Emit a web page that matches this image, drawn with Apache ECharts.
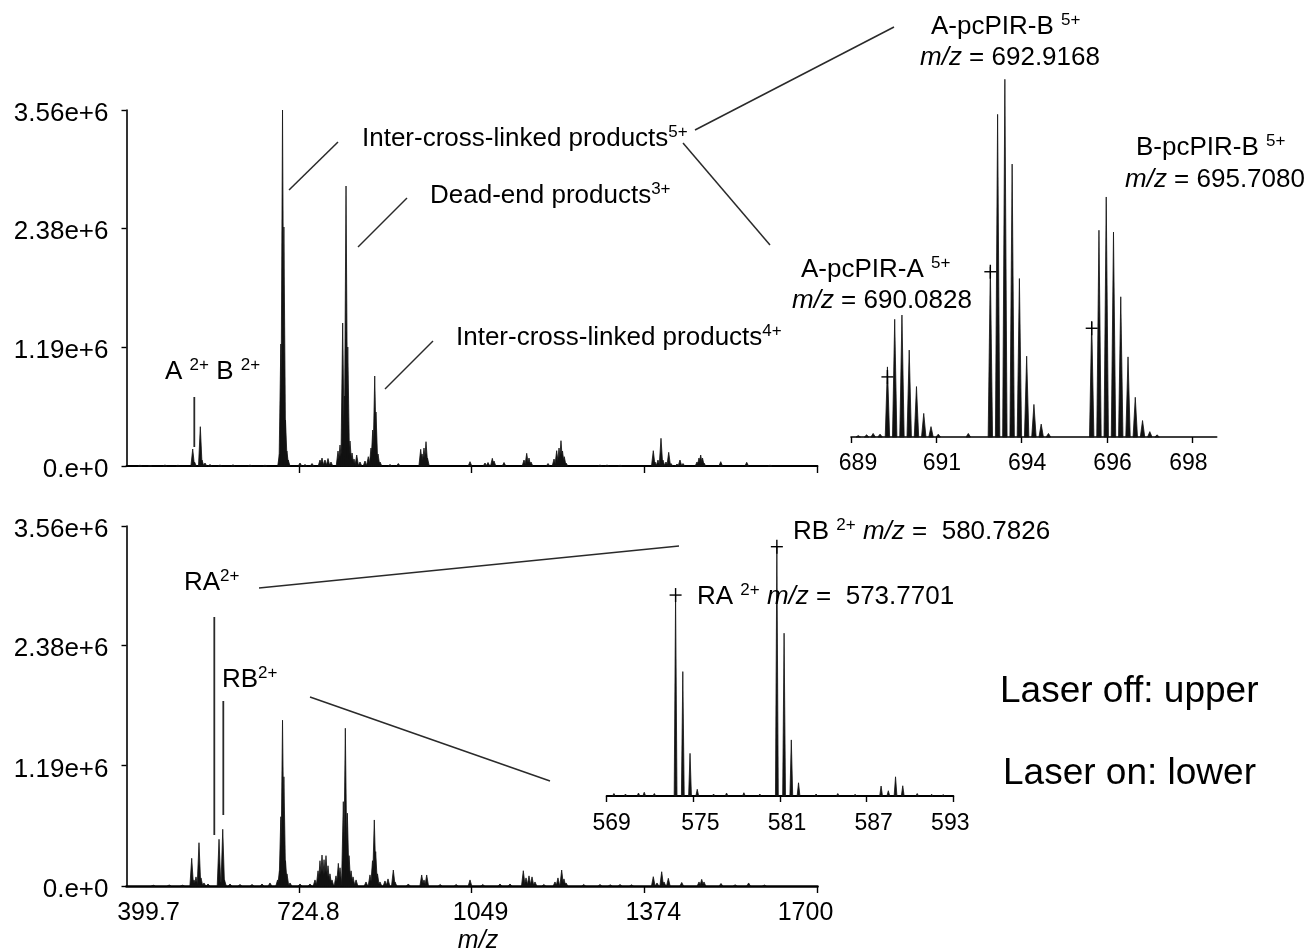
<!DOCTYPE html>
<html><head><meta charset="utf-8">
<script src="https://cdn.jsdelivr.net/npm/echarts@6/dist/echarts.min.js"></script>
<style>html,body{margin:0;padding:0;background:#fff}#c{width:1308px;height:952px}</style>
</head><body><div id="c"></div>
<script>
const FONT = "'Liberation Sans', Arial, Helvetica, sans-serif";

// ---- main spectra: [m/z, intensity]
const upperPeaks = [[425.1,8e3],[443.9,6e3],[472.1,10e3],[496.6,8e3],[524.3,170e3],[527.7,40e3],[538.6,393e3],[541.8,60e3],[547.4,30e3],[556.8,15e3],[575.6,10e3],[600.1,12e3],[632.1,10e3],[660.3,8e3],
[687.6,120e3],[690.1,1.22e6],[693.3,3.56e6],[695.9,2.39e6],[698.9,0.46e6],[701.5,150e3],[704.0,60e3],[726.2,30e3],[735.6,15e3],[748.8,25e3],
[763.8,60e3],[767.6,80e3],[773.2,60e3],[778.9,75e3],[784.5,40e3],[797.7,150e3],[801.5,210e3],[806.5,1.43e6],[809.9,0.7e6],[812.8,2.80e6],[816.1,1.19e6],[820.3,0.25e6],[824.1,130e3],[827.8,70e3],[832.9,110e3],[839.1,40e3],
[848.5,50e3],[854.7,93e3],[859.8,180e3],[863.0,360e3],[866.8,0.90e6],[869.2,0.54e6],[873.0,0.12e6],[876.8,40e3],[895.6,15e3],[911.2,25e3],
[953.3,167e3],[955.8,120e3],[959.5,180e3],[963.3,243e3],[966.1,80e3],[1046.1,43e3],[1074.3,30e3],[1080.0,35e3],[1088.1,77e3],[1091.3,50e3],[1110.1,35e3],
[1147.7,60e3],[1152.8,127e3],[1157.1,80e3],[1160.9,40e3],[1192.9,25e3],[1204.2,70e3],[1209.2,153e3],[1213.6,180e3],[1217.3,253e3],[1220.2,150e3],[1223.5,93e3],[1226.8,30e3],
[1290.7,10e3],[1303.9,10e3],[1328.4,8e3],[1391.0,153e3],[1394.2,40e3],[1399.8,60e3],[1405.5,277e3],[1409.2,60e3],[1414.9,40e3],[1420.0,137e3],[1424.3,25e3],
[1435.6,20e3],[1441.2,60e3],[1446.9,25e3],[1473.2,40e3],[1477.0,80e3],[1480.2,110e3],[1483.6,80e3],[1486.4,30e3],[1517.9,43e3],[1566.8,37e3],[1610.6,8e3]];

const lowerPeaks = [[450,8e3],[480,10e3],[505,8e3],[522.4,274e3],[526.7,60e3],[530.5,90e3],[536.1,428e3],[539.9,80e3],[545.5,30e3],[553.1,20e3],[573.8,462e3],[576.0,40e3],[580.8,561e3],[584.1,60e3],
[594.5,20e3],[613.3,15e3],[635.9,15e3],[654.7,20e3],[669.7,30e3],[684.0,60e3],[687.6,150e3],[690.1,0.685e6],[693.3,1.64e6],[695.9,1.08e6],[698.9,0.25e6],[701.7,120e3],[707.4,30e3],[726.2,20e3],[745.0,20e3],
[754.4,60e3],[760.1,150e3],[763.8,250e3],[767.6,306e3],[771.4,260e3],[775.1,300e3],[778.9,200e3],[782.6,120e3],[786.4,60e3],[793.9,100e3],[798.3,224e3],[801.5,180e3],[807.7,0.834e6],[811.5,1.56e6],[815.3,0.72e6],[818.5,0.3e6],[822.3,150e3],[826.0,90e3],[831.7,60e3],
[850.4,40e3],[857.9,110e3],[862.6,250e3],[866.0,653e3],[868.6,340e3],[872.0,120e3],[876.7,40e3],[886.1,50e3],[891.8,70e3],[901.8,158e3],[905.0,40e3],[930,20e3],
[955.2,109e3],[959.5,60e3],[964.6,109e3],[990,15e3],[1020,15e3],[1046.1,60e3],[1070,15e3],[1102.5,20e3],[1121.4,20e3],
[1146.4,151e3],[1151.5,80e3],[1157.1,100e3],[1162.8,90e3],[1168.4,40e3],[1185,15e3],[1206.0,40e3],[1211.6,80e3],[1218.6,158e3],[1222.9,70e3],[1226.8,30e3],
[1260,15e3],[1290.7,15e3],[1310,12e3],[1328.4,15e3],[1350,12e3],[1391.0,92e3],[1398.0,30e3],[1406.8,141e3],[1411.2,40e3],[1419.3,76e3],[1444.5,35e3],
[1477.0,40e3],[1482.1,66e3],[1486.4,40e3],[1518.4,25e3],[1545,12e3],[1570.4,30e3],[1600,10e3]];

// ---- insets: [m/z, relative intensity %]
const upperInsetPeaks = [[689.28,0.4],[689.51,0.6],[689.69,1.0],[689.88,0.8],
[690.083,19.6],[690.283,32.9],[690.483,34.1],[690.683,24.3],[690.883,14.1],[691.083,6.6],[691.283,2.9],[691.483,0.8],[692.31,1.0],
[692.917,47.6],[693.117,90.2],[693.317,100],[693.517,76.3],[693.717,44.3],[693.917,22.6],[694.117,9.1],[694.317,3.6],[694.517,1.0],
[695.708,32.2],[695.908,57.8],[696.108,67.1],[696.308,57.3],[696.508,39.2],[696.708,22.4],[696.908,11.1],[697.108,4.6],[697.308,1.5],[697.508,0.6]];
const upperInsetMono = [[690.0828,16.8],[692.9168,46.2],[695.7080,30.4]];

const lowerInsetPeaks = [[569.5,1.0],[570.3,0.8],[571.2,1.2],[571.6,1.5],[572.3,1.0],
[573.770,80.6],[574.270,49.9],[574.770,17.1],[575.270,2.7],[576.4,0.8],[577.3,1.2],[578.5,1.3],[579.6,0.8],
[580.783,100],[581.283,65.3],[581.783,22.5],[582.283,5.3],[583.5,0.8],[585.0,1.0],[586.2,0.7],
[588.0,4.0],[588.5,2.1],[589.0,7.7],[589.5,4.1],[590.5,1.0],[591.5,0.7],[592.3,0.6]];
const lowerInsetMono = [[573.7701,80.6],[580.7826,100]];

// ---- ticks / labels
const mainXTicks = [399.7, 724.8, 1049, 1374, 1700];
const mainXLabels = ['399.7', '724.8', '1049', '1374', '1700'];
const mainYTicks = [0, 1.19e6, 2.38e6, 3.56e6];
const mainYLabels = ['0.e+0', '1.19e+6', '2.38e+6', '3.56e+6'];
const upperInsetTicks = [689.08, 691.43, 693.78, 696.13, 698.48];
const upperInsetLabels = ['689', '691', '694', '696', '698'];
const lowerInsetTicks = [569, 575, 581, 587, 593];
const lowerInsetLabels = ['569', '575', '581', '587', '593'];

function idxOf(arr, v) {
  let best = 0, d = Infinity;
  arr.forEach((a, i) => { const dd = Math.abs(a - v); if (dd < d) { d = dd; best = i; } });
  return best;
}

function peakSeries(xi, peaks, halfW) {
  return {
    type: 'custom', xAxisIndex: xi, yAxisIndex: xi, silent: true, animation: false, clip: false, z: 3,
    data: peaks,
    renderItem: (params, api) => {
      const top = api.coord([api.value(0), api.value(1)]);
      const base = api.coord([api.value(0), 0]);
      return {
        type: 'polygon',
        shape: { points: [[top[0] - halfW, base[1]], [top[0], top[1]], [top[0] + halfW, base[1]]] },
        style: { fill: '#111', stroke: '#111', lineWidth: 0.8 }
      };
    }
  };
}
function crossSeries(xi, marks) {
  return {
    type: 'custom', xAxisIndex: xi, yAxisIndex: xi, silent: true, animation: false, clip: false, z: 4,
    data: marks,
    renderItem: (params, api) => {
      const c = api.coord([api.value(0), api.value(1)]);
      const st = { stroke: '#000', lineWidth: 1.4 };
      return { type: 'group', children: [
        { type: 'line', shape: { x1: c[0] - 6, y1: c[1], x2: c[0] + 6, y2: c[1] }, style: st },
        { type: 'line', shape: { x1: c[0], y1: c[1] - 7, x2: c[0], y2: c[1] + 7 }, style: st }
      ]};
    }
  };
}

function xLabel(ticks, labels, fs, padMin, padMid, padMax, margin) {
  return {
    show: true, customValues: ticks, margin: margin, color: '#000', fontSize: fs, fontFamily: FONT,
    showMinLabel: true, showMaxLabel: true, hideOverlap: false,
    formatter: v => {
      const i = idxOf(ticks, v);
      const k = i === 0 ? 'a' : (i === ticks.length - 1 ? 'z' : 'm');
      return '{' + k + '|' + labels[i] + '}';
    },
    rich: {
      a: { fontSize: fs, fontFamily: FONT, color: '#000', padding: [0, 0, 0, padMin] },
      m: { fontSize: fs, fontFamily: FONT, color: '#000', padding: [0, 0, 0, padMid] },
      z: { fontSize: fs, fontFamily: FONT, color: '#000', padding: [0, padMax, 0, 0] }
    }
  };
}

const axisLineStyle = w => ({ show: true, onZero: false, lineStyle: { color: '#000', width: w } });

const mainY = {
  type: 'value', min: 0, max: 3.56e6, splitLine: { show: false },
  axisLine: axisLineStyle(1.6),
  axisTick: { show: true, customValues: mainYTicks, length: 5, lineStyle: { color: '#000', width: 1.4 } },
  axisLabel: { show: true, customValues: mainYTicks, margin: 18, color: '#000', fontSize: 26, fontFamily: FONT,
    showMinLabel: true, showMaxLabel: true,
    formatter: v => '{a|' + mainYLabels[idxOf(mainYTicks, v)] + '}',
    rich: { a: { fontSize: 26, fontFamily: FONT, color: '#000', padding: [8, 0, 0, 0] } } }
};

const gridBase = { containLabel: false, outerBoundsMode: 'none', show: false };

const RICH = (fs) => ({
  n: { fontSize: fs, fontFamily: FONT, fill: '#000', lineHeight: 30 },
  s: { fontSize: 17, fontFamily: FONT, fill: '#000', lineHeight: 23, verticalAlign: 'top' },
  i: { fontSize: fs, fontFamily: FONT, fill: '#000', lineHeight: 30, fontStyle: 'italic' }
});
function txt(x, y, text, fs, align) {
  return { type: 'text', x: x, y: y, z: 100, silent: true,
    style: { text: text, rich: RICH(fs || 26), fill: '#000', fontSize: fs || 26, fontFamily: FONT,
      align: align || 'left', verticalAlign: 'middle', textAlign: align || 'left', textVerticalAlign: 'middle' } };
}
function ln(x1, y1, x2, y2, w) {
  return { type: 'line', z: 100, silent: true, shape: { x1, y1, x2, y2 }, style: { stroke: '#2a2a2a', lineWidth: w || 1.5 } };
}

const option = {
  backgroundColor: '#fff',
  animation: false,
  grid: [
    Object.assign({ left: 126.5, top: 110, width: 691, height: 356 }, gridBase),
    Object.assign({ left: 126.5, top: 526, width: 691, height: 360 }, gridBase),
    Object.assign({ left: 851, top: 79.3, width: 365.7, height: 357.7 }, gridBase),
    Object.assign({ left: 606.7, top: 546.7, width: 346.6, height: 249.3 }, gridBase)
  ],
  xAxis: [
    { gridIndex: 0, type: 'value', min: 399.7, max: 1700, splitLine: { show: false }, axisLine: axisLineStyle(1.8),
      axisTick: { show: true, customValues: mainXTicks.slice(1), length: 7, lineStyle: { color: '#000', width: 1.4 } },
      axisLabel: { show: false } },
    { gridIndex: 1, type: 'value', min: 399.7, max: 1700, splitLine: { show: false }, axisLine: axisLineStyle(2.6),
      axisTick: { show: true, customValues: mainXTicks.slice(1), length: 7, lineStyle: { color: '#000', width: 1.4 } },
      axisLabel: xLabel(mainXTicks, mainXLabels, 25, 44, 18, 24, 15),
      name: 'm/z', nameLocation: 'middle', nameGap: 43, nameMoveOverlap: false,
      nameTextStyle: { fontStyle: 'italic', fontSize: 25, fontFamily: FONT, color: '#000', padding: [0, 0, 0, 12] } },
    { gridIndex: 2, type: 'value', min: 689.08, max: 699.15, splitLine: { show: false }, axisLine: axisLineStyle(1.6),
      axisTick: { show: true, customValues: upperInsetTicks, length: 6, lineStyle: { color: '#000', width: 1.4 } },
      axisLabel: xLabel(upperInsetTicks, upperInsetLabels, 23, 14, 11, 8, 15) },
    { gridIndex: 3, type: 'value', min: 569, max: 593, splitLine: { show: false }, axisLine: axisLineStyle(2),
      axisTick: { show: true, customValues: lowerInsetTicks, length: 6, lineStyle: { color: '#000', width: 1.4 } },
      axisLabel: xLabel(lowerInsetTicks, lowerInsetLabels, 23, 10, 14, 6, 16) }
  ],
  yAxis: [
    Object.assign({ gridIndex: 0 }, mainY),
    Object.assign({ gridIndex: 1 }, mainY),
    { gridIndex: 2, type: 'value', min: 0, max: 100, show: false },
    { gridIndex: 3, type: 'value', min: 0, max: 100, show: false }
  ],
  series: [
    peakSeries(0, upperPeaks, 1.8),
    peakSeries(1, lowerPeaks, 1.8),
    peakSeries(2, upperInsetPeaks, 2.2),
    peakSeries(3, lowerInsetPeaks, 1.4),
    crossSeries(2, upperInsetMono),
    crossSeries(3, lowerInsetMono)
  ],
  graphic: [
    // leader lines
    ln(289, 190, 338, 142), ln(358, 247, 407, 198), ln(385, 389, 433, 341),
    ln(695, 130, 894, 27), ln(683, 143, 770, 245),
    ln(194.3, 397, 194.3, 447, 1.8),
    ln(214.3, 617, 214.3, 835, 1.8), ln(223.3, 701, 223.3, 815, 1.8),
    ln(259, 588, 679, 546), ln(310, 697, 550, 781),
    // labels
    txt(362, 139, '{n|Inter-cross-linked products}{s|5+}'),
    txt(430, 196, '{n|Dead-end products}{s|3+}'),
    txt(456, 338, '{n|Inter-cross-linked products}{s|4+}'),
    txt(165, 372, '{n|A }{s|2+}{n| B }{s|2+}'),
    txt(931, 27, '{n|A-pcPIR-B }{s|5+}'),
    txt(920, 58, '{i|m/z}{n| = 692.9168}'),
    txt(1136, 148, '{n|B-pcPIR-B }{s|5+}'),
    txt(1125, 180, '{i|m/z}{n| = 695.7080}'),
    txt(801, 270, '{n|A-pcPIR-A }{s|5+}'),
    txt(792, 301, '{i|m/z}{n| = 690.0828}'),
    txt(184, 583, '{n|RA}{s|2+}'),
    txt(222, 680, '{n|RB}{s|2+}'),
    txt(793, 532, '{n|RB }{s|2+}{i| m/z}{n| =  580.7826}'),
    txt(697, 597, '{n|RA }{s|2+}{i| m/z}{n| =  573.7701}'),
    txt(1000, 692, '{n|Laser off: upper}', 37),
    txt(1003, 774, '{n|Laser on: lower}', 37)
  ]
};

const chart = echarts.init(document.getElementById('c'), null, { renderer: 'canvas' });
chart.setOption(option);
</script>
</body></html>
